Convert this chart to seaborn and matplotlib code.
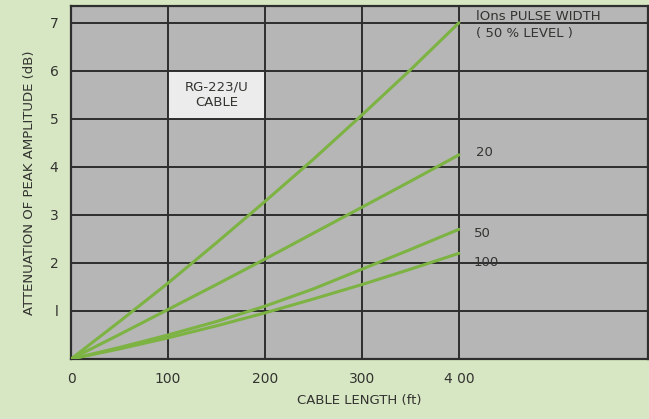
import pandas as pd
import matplotlib
matplotlib.use('Agg')
import matplotlib.pyplot as plt
import seaborn as sns

# cable attenuation curves
length_ft = [0, 50, 100, 150, 200, 250, 300, 350, 400]
atten_10ns = [0, 0.78, 1.58, 2.42, 3.28, 4.16, 5.08, 6.02, 7.0]
atten_20ns = [0, 0.51, 1.03, 1.55, 2.08, 2.62, 3.16, 3.7, 4.25]
atten_50ns = [0, 0.24, 0.5, 0.78, 1.1, 1.46, 1.87, 2.28, 2.7]
atten_100ns = [0, 0.21, 0.44, 0.69, 0.96, 1.25, 1.55, 1.87, 2.2]
pulse_labels = ['10', '20', '50', '100']
x_ticks = [0, 100, 200, 300, 400]
x_ticklabels = ['0', '100', '200', '300', '4 00']
y_ticks = [1, 2, 3, 4, 5, 6, 7]

df = pd.concat([
    pd.DataFrame({'Length': length_ft, 'dB': vals, 'Pulse': lab})
    for lab, vals in zip(pulse_labels, [atten_10ns, atten_20ns, atten_50ns, atten_100ns])
])

sns.set_style('white')
plt.rcParams['font.family'] = ['DejaVu Sans']
txt = '#333330'
bg = '#d7e7c3'
green = '#7cb342'

fig = plt.figure(figsize=(6.49, 4.19), dpi=100, facecolor=bg)
ax = fig.add_axes([71 / 649, 60 / 419, 577 / 649, 353 / 419])
ax.set_facecolor('#b6b6b6')

_ = sns.lineplot(x='Length', y='dB', data=df, hue='Pulse', palette=[green] * 4,
                 legend=False, linewidth=2.2, ax=ax, zorder=3)

ax.set_xlim(0, 595)
ax.set_ylim(0, 7.35)
ax.set_xticks(x_ticks)
ax.set_xticklabels(x_ticklabels)
ax.set_yticks(y_ticks)
ax.set_yticklabels(['l', '2', '3', '4', '5', '6', '7'])
ax.tick_params(length=0, labelsize=10, colors=txt, pad=9)
for v in x_ticks:
    ax.axvline(v, color='#2e2e2e', lw=1.4, zorder=2)
for v in y_ticks:
    ax.axhline(v, color='#2e2e2e', lw=1.4, zorder=2)
for s in ax.spines.values():
    s.set_color('#2e2e2e')
    s.set_linewidth(1.6)

ax.set_xlabel('CABLE LENGTH (ft)', color=txt, fontsize=9.5, labelpad=6)
ax.set_ylabel('ATTENUATION OF PEAK AMPLITUDE (dB)', color=txt, fontsize=9.5, labelpad=10)

# RG-223/U box
ax.add_patch(plt.Rectangle((100, 5), 100, 1, facecolor='#ececec', edgecolor='#2e2e2e', lw=1.4, zorder=4))
ax.text(150, 5.5, 'RG-223/U\nCABLE', ha='center', va='center', color=txt, fontsize=9.5,
        linespacing=1.2, zorder=5)

ax.text(418, 6.95, 'lOns PULSE WIDTH\n( 50 % LEVEL )', ha='left', va='center', color=txt,
        fontsize=9.5, linespacing=1.4)
ax.text(418, 4.3, '20', ha='left', va='center', color=txt, fontsize=9.5)
ax.text(415, 2.62, '50', ha='left', va='center', color=txt, fontsize=9.5)
ax.text(415, 2.0, '100', ha='left', va='center', color=txt, fontsize=9.5)

plt.savefig('out.png', dpi=100, facecolor=bg)
